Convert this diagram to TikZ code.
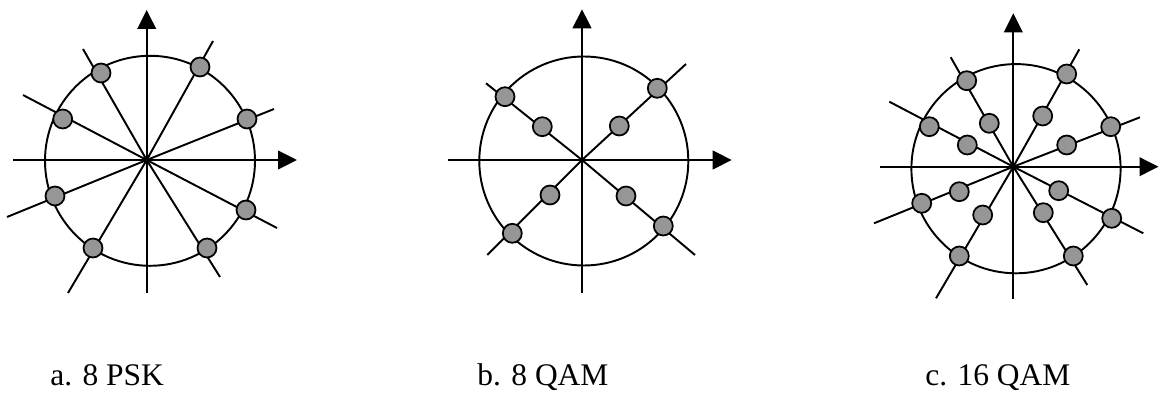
\documentclass[tikz,border=0pt]{standalone}
\usepackage{fontspec}
\setmainfont{Liberation Serif}
\usetikzlibrary{arrows.meta}
\definecolor{dotgray}{RGB}{150,150,150}
\tikzset{
  axisline/.style={line width=1.1pt,-{Triangle[length=10.8pt,width=10.6pt]}},
  rayline/.style={line width=1.1pt},
  ringline/.style={line width=1.1pt},
  symdot/.style={circle,draw=black,line width=1.0pt,fill=dotgray,minimum size=10.8pt,inner sep=0pt},
  lbltext/.style={anchor=base west,font=\fontsize{17.9pt}{20pt}\selectfont,inner sep=0pt}
}
\begin{document}
\begin{tikzpicture}[x=0.02cm,y=-0.02cm]
\useasboundingbox (0,0) rectangle (1159,394);
% ---------- a. 8 PSK ----------
\coordinate (oa) at (146.7,160);
\coordinate (aT) at (146.7,10);  \coordinate (aB) at (146.7,293);
\coordinate (aL) at (13,160);    \coordinate (aR) at (297,160);
\draw[ringline] (150,160.8) circle[radius=105];
\foreach \i/\ex/\ey in {1/213/41,2/274/109,3/83/49,4/23/95,5/7/217,6/68/293,7/220/277,8/277/228}
  \coordinate (ae\i) at (\ex,\ey);
\foreach \i in {1,...,8} \draw[rayline] (oa) -- (ae\i);
\draw[rayline] (aB) -- (oa);
\draw[axisline] (oa) -- (aT);
\draw[rayline] (aL) -- (oa);
\draw[axisline] (oa) -- (aR);
\foreach \i/\dx/\dy in {1/200/67,2/247/119,3/101/73,4/62.7/119,5/55/196,6/93/248,7/207/248,8/246/210}
  \node[symdot] (ad\i) at (\dx,\dy) {};
\node[lbltext] (ca) at (50,386) {a. 8 PSK};
% ---------- b. 8 QAM ----------
\coordinate (ob) at (582,160);
\coordinate (bT) at (582,9.3);   \coordinate (bB) at (582,292.7);
\coordinate (bL) at (448,160);   \coordinate (bR) at (731.7,160);
\draw[ringline] (583.8,161) circle[radius=104.5];
\foreach \i/\ex/\ey in {1/686/64,2/486/83.3,3/487.3/255,4/695/255}
  \coordinate (be\i) at (\ex,\ey);
\foreach \i in {1,...,4} \draw[rayline] (ob) -- (be\i);
\draw[rayline] (bB) -- (ob);
\draw[axisline] (ob) -- (bT);
\draw[rayline] (bL) -- (ob);
\draw[axisline] (ob) -- (bR);
\foreach \i/\dx/\dy in {1/657.3/88.3,2/505/96.7,3/512.3/233.3,4/663.3/226,5/619.3/126,6/542.3/126.7,7/550/195,8/626/196}
  \node[symdot] (bd\i) at (\dx,\dy) {};
\node[lbltext] (cb) at (477,386) {b. 8 QAM};
% ---------- c. 16 QAM ----------
\coordinate (oc) at (1013.3,166.7);
\coordinate (cT) at (1013.3,13.3); \coordinate (cB) at (1013.3,299);
\coordinate (cL) at (880,166.7);   \coordinate (cR) at (1158.5,166.7);
\draw[ringline] (1016,168.7) circle[radius=104.6];
\foreach \i/\ex/\ey in {1/1079.3/49.3,2/1140/117.3,3/950.7/57.3,4/889.3/101.7,5/874/223.3,6/936/298.3,7/1087.3/285,8/1143.3/233.3}
  \coordinate (ce\i) at (\ex,\ey);
\foreach \i in {1,...,8} \draw[rayline] (oc) -- (ce\i);
\draw[rayline] (cB) -- (oc);
\draw[axisline] (oc) -- (cT);
\draw[rayline] (cL) -- (oc);
\draw[axisline] (oc) -- (cR);
\foreach \i/\dx/\dy in {1/1066.7/74,2/1110.7/126.7,3/966.7/80.7,4/929.3/126.7,5/921.7/203.3,6/959.3/256,7/1073.3/256,8/1111.7/218.3,
  9/1042.7/116,10/1066.7/145,11/989.3/123.3,12/967.3/145,13/959.3/191.7,14/982.7/215,15/1043.3/212.7,16/1058.7/190.7}
  \node[symdot] (cd\i) at (\dx,\dy) {};
\node[lbltext] (cc) at (925,386) {c. 16 QAM};
\end{tikzpicture}
\end{document}
